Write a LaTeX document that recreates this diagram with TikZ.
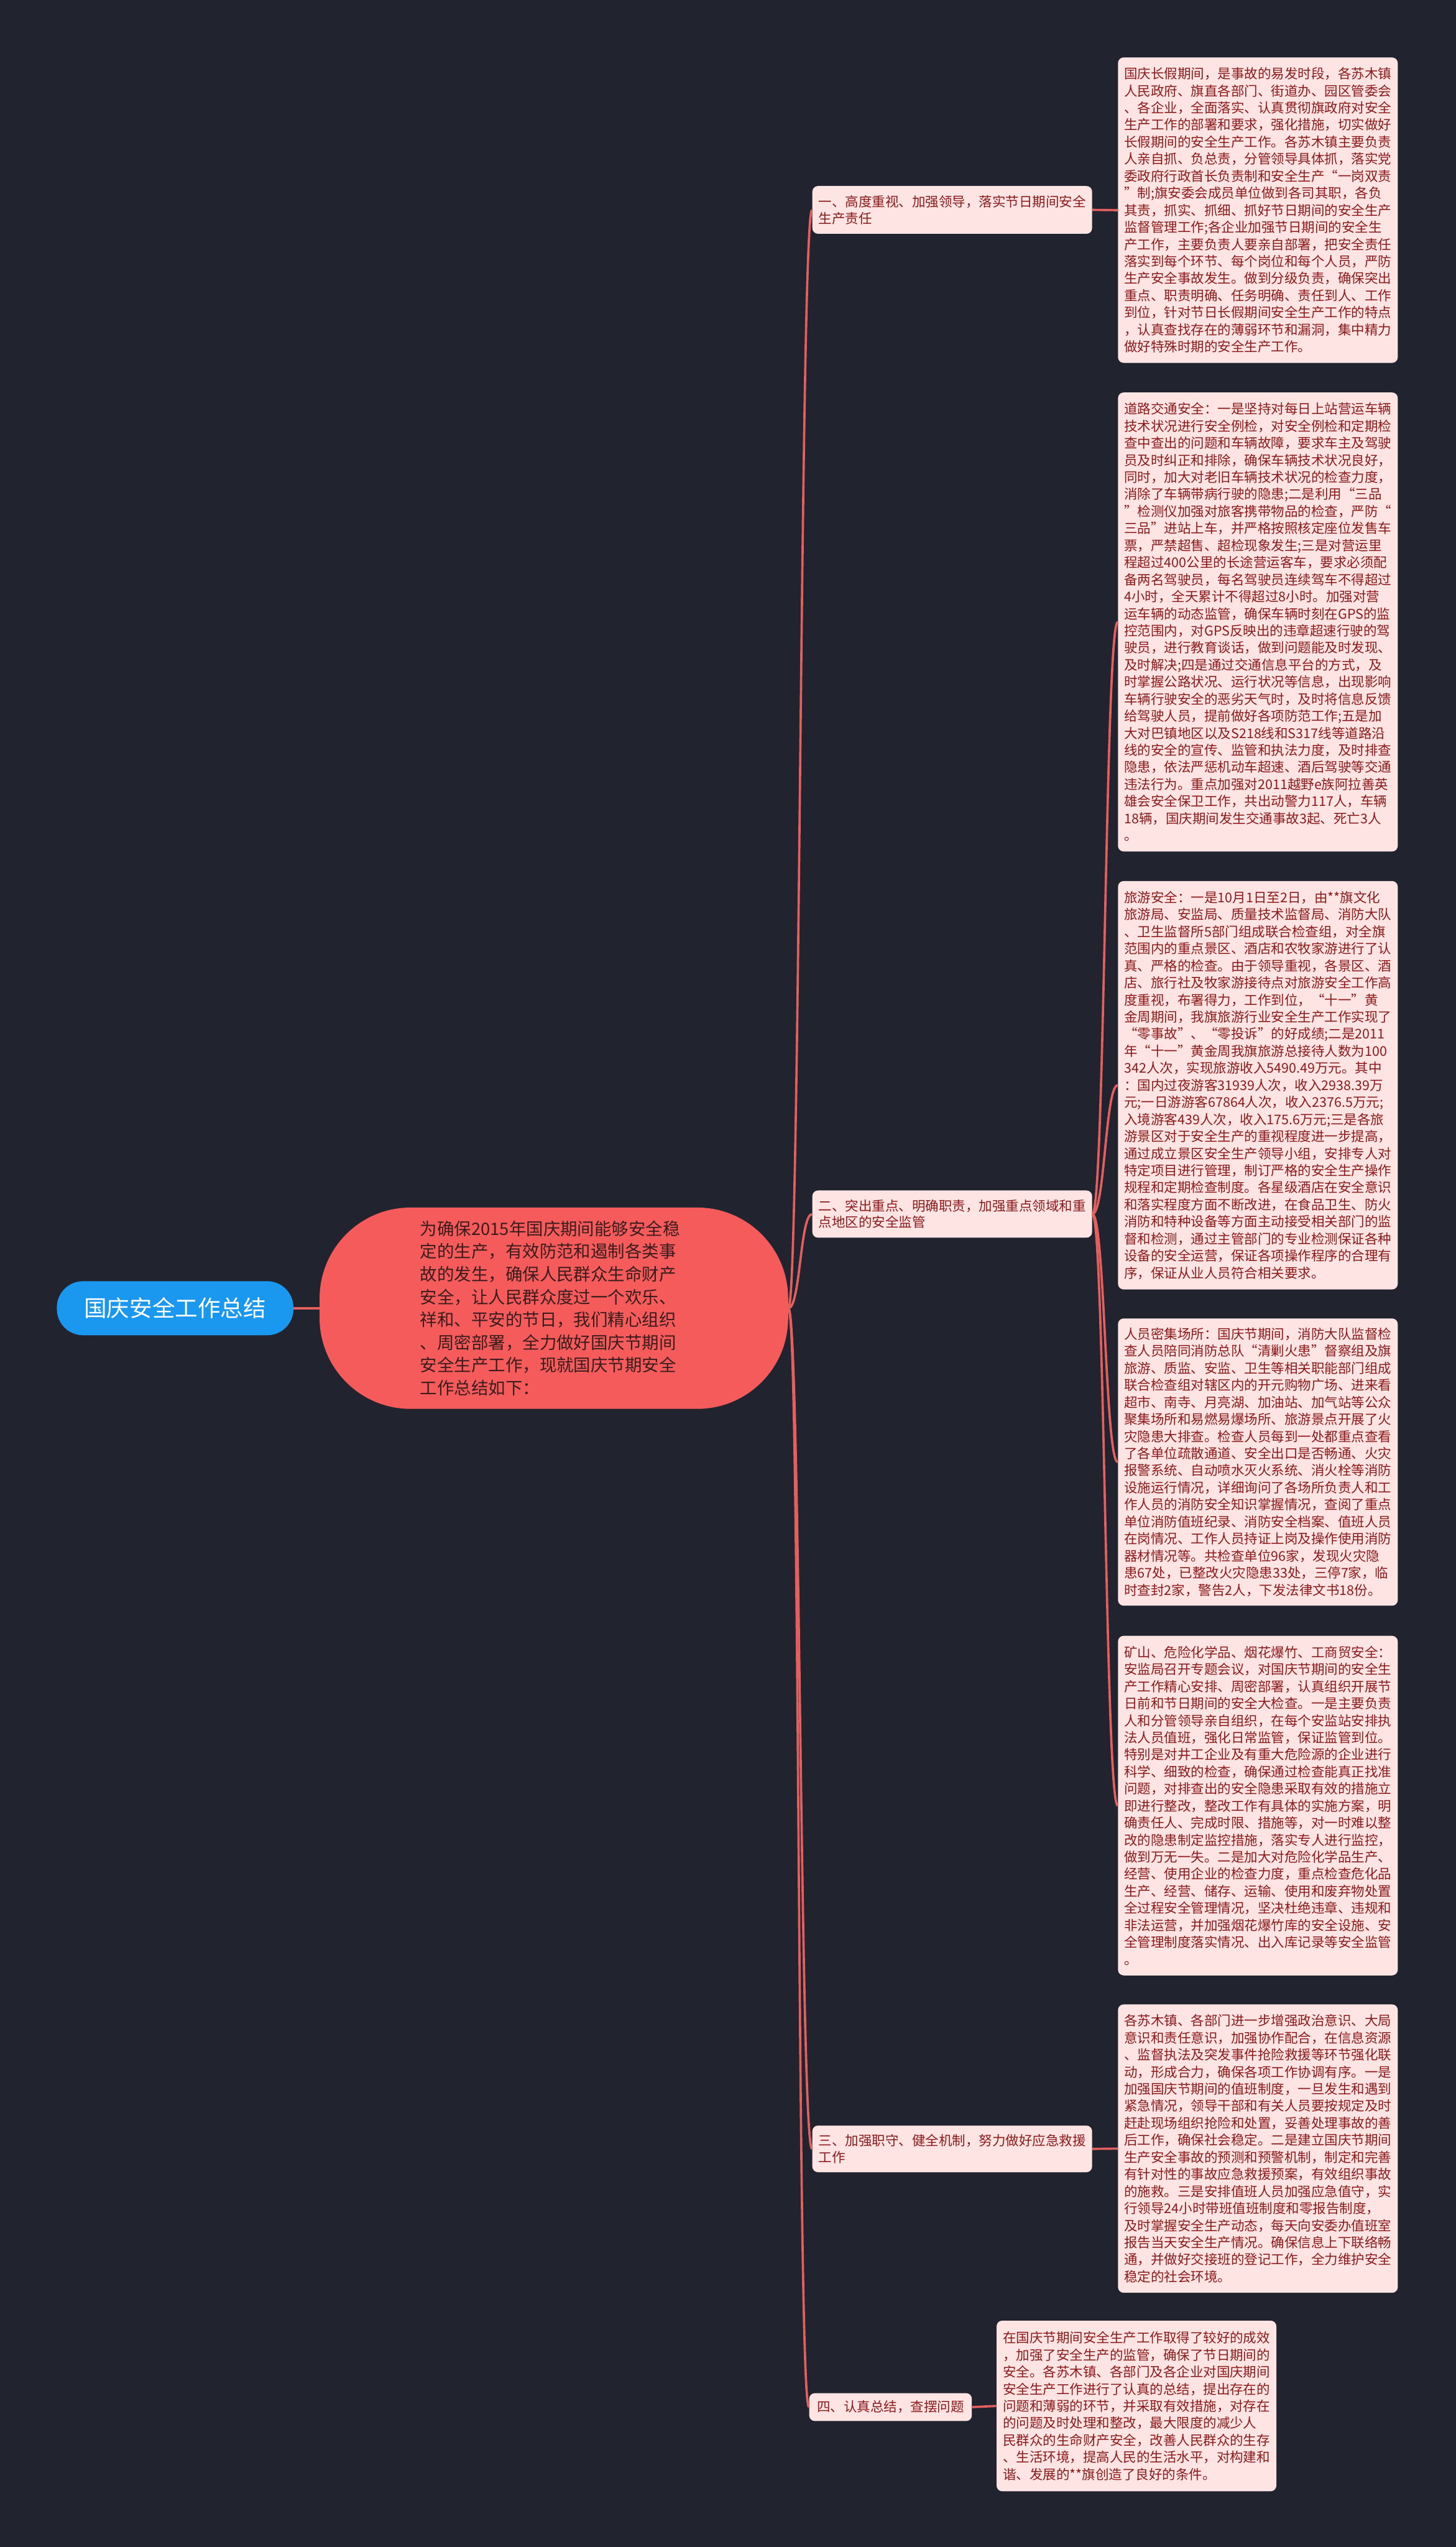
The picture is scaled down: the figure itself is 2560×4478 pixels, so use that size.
\documentclass[tikz,border=0pt]{standalone}
\usepackage{fontspec}
\setmainfont{Noto Sans CJK SC}
\definecolor{bgnavy}{HTML}{21232F}
\definecolor{rootblue}{HTML}{1A97EE}
\definecolor{mainred}{HTML}{F55B5B}
\definecolor{maintext}{HTML}{3A1C1C}
\definecolor{linkred}{HTML}{E3605F}
\definecolor{leafpink}{HTML}{FFE4E4}
\definecolor{leaftext}{HTML}{8B1A1A}

\begin{document}
\begin{tikzpicture}[x=0.5pt, y=-0.5pt,
    link/.style={draw=linkred, line width=2pt},
    rootnode/.style={fill=rootblue, rounded corners=23pt, text=white, font=\fontsize{20pt}{24pt}\selectfont, minimum width=208pt, minimum height=47.5pt},
    mainnode/.style={fill=mainred, rounded corners=80pt, text=maintext, font=\fontsize{15pt}{20pt}\selectfont, align=left, text width=235pt, minimum width=412pt, minimum height=177pt},
    branch/.style={fill=leafpink, rounded corners=5pt, text=leaftext, font=\fontsize{11.75pt}{14.5pt}\selectfont, align=left, text width=235pt, inner xsep=5.5pt},
    leaf/.style={fill=leafpink, rounded corners=5pt, text=leaftext, font=\fontsize{11.75pt}{15pt}\selectfont, align=left, text width=235pt, inner xsep=5.5pt}]

        % Draw background
        \fill[bgnavy] (0,0) rectangle (2560,4478);

        % Draw root and main topic
        \node[rootnode] (root) at (308,2300) {国庆安全工作总结};
        \node[mainnode] (main) at (974,2300) {为确保2015年国庆期间能够安全稳\\定的生产，有效防范和遏制各类事\\故的发生，确保人民群众生命财产\\安全，让人民群众度过一个欢乐、\\祥和、平安的节日，我们精心组织\\、周密部署，全力做好国庆节期间\\安全生产工作，现就国庆节期安全\\工作总结如下：};

        % Draw branches
        \node[branch, minimum height=42pt] (b1) at (1674.5,369) {一、高度重视、加强领导，落实节日期间安全\\生产责任};
        \node[branch, minimum height=41.5pt] (b2) at (1674.5,2134.5) {二、突出重点、明确职责，加强重点领域和重\\点地区的安全监管};
        \node[branch, minimum height=41pt] (b3) at (1674.5,3778) {三、加强职守、健全机制，努力做好应急救援\\工作};
        \node[branch, minimum height=24.5pt, text width=129pt, inner xsep=7pt] (b4) at (1566,4232) {四、认真总结，查摆问题};

        % Draw leaves
        \node[leaf, minimum height=268.5pt] (l1) at (2212,369.5) {国庆长假期间，是事故的易发时段，各苏木镇\\人民政府、旗直各部门、街道办、园区管委会\\、各企业，全面落实、认真贯彻旗政府对安全\\生产工作的部署和要求，强化措施，切实做好\\长假期间的安全生产工作。各苏木镇主要负责\\人亲自抓、负总责，分管领导具体抓，落实党\\委政府行政首长负责制和安全生产“一岗双责\\”制;旗安委会成员单位做到各司其职，各负\\其责，抓实、抓细、抓好节日期间的安全生产\\监督管理工作;各企业加强节日期间的安全生\\产工作，主要负责人要亲自部署，把安全责任\\落实到每个环节、每个岗位和每个人员，严防\\生产安全事故发生。做到分级负责，确保突出\\重点、职责明确、任务明确、责任到人、工作\\到位，针对节日长假期间安全生产工作的特点\\，认真查找存在的薄弱环节和漏洞，集中精力\\做好特殊时期的安全生产工作。};
        \node[leaf, minimum height=403.5pt] (l2) at (2212,1093.5) {道路交通安全：一是坚持对每日上站营运车辆\\技术状况进行安全例检，对安全例检和定期检\\查中查出的问题和车辆故障，要求车主及驾驶\\员及时纠正和排除，确保车辆技术状况良好，\\同时，加大对老旧车辆技术状况的检查力度，\\消除了车辆带病行驶的隐患;二是利用“三品\\”检测仪加强对旅客携带物品的检查，严防“\\三品”进站上车，并严格按照核定座位发售车\\票，严禁超售、超检现象发生;三是对营运里\\程超过400公里的长途营运客车，要求必须配\\备两名驾驶员，每名驾驶员连续驾车不得超过\\4小时，全天累计不得超过8小时。加强对营\\运车辆的动态监管，确保车辆时刻在GPS的监\\控范围内，对GPS反映出的违章超速行驶的驾\\驶员，进行教育谈话，做到问题能及时发现、\\及时解决;四是通过交通信息平台的方式，及\\时掌握公路状况、运行状况等信息，出现影响\\车辆行驶安全的恶劣天气时，及时将信息反馈\\给驾驶人员，提前做好各项防范工作;五是加\\大对巴镇地区以及S218线和S317线等道路沿\\线的安全的宣传、监管和执法力度，及时排查\\隐患，依法严惩机动车超速、酒后驾驶等交通\\违法行为。重点加强对2011越野e族阿拉善英\\雄会安全保卫工作，共出动警力117人，车辆\\18辆，国庆期间发生交通事故3起、死亡3人\\。};
        \node[leaf, minimum height=359pt] (l3) at (2212,1908) {旅游安全：一是10月1日至2日，由**旗文化\\旅游局、安监局、质量技术监督局、消防大队\\、卫生监督所5部门组成联合检查组，对全旗\\范围内的重点景区、酒店和农牧家游进行了认\\真、严格的检查。由于领导重视，各景区、酒\\店、旅行社及牧家游接待点对旅游安全工作高\\度重视，布署得力，工作到位，“十一”黄\\金周期间，我旗旅游行业安全生产工作实现了\\“零事故”、“零投诉”的好成绩;二是2011\\年“十一”黄金周我旗旅游总接待人数为100\\342人次，实现旅游收入5490.49万元。其中\\：国内过夜游客31939人次，收入2938.39万\\元;一日游游客67864人次，收入2376.5万元;\\入境游客439人次，收入175.6万元;三是各旅\\游景区对于安全生产的重视程度进一步提高，\\通过成立景区安全生产领导小组，安排专人对\\特定项目进行管理，制订严格的安全生产操作\\规程和定期检查制度。各星级酒店在安全意识\\和落实程度方面不断改进，在食品卫生、防火\\消防和特种设备等方面主动接受相关部门的监\\督和检测，通过主管部门的专业检测保证各种\\设备的安全运营，保证各项操作程序的合理有\\序，保证从业人员符合相关要求。};
        \node[leaf, minimum height=252.5pt] (l4) at (2212,2570.5) {人员密集场所：国庆节期间，消防大队监督检\\查人员陪同消防总队“清剿火患”督察组及旗\\旅游、质监、安监、卫生等相关职能部门组成\\联合检查组对辖区内的开元购物广场、进来看\\超市、南寺、月亮湖、加油站、加气站等公众\\聚集场所和易燃易爆场所、旅游景点开展了火\\灾隐患大排查。检查人员每到一处都重点查看\\了各单位疏散通道、安全出口是否畅通、火灾\\报警系统、自动喷水灭火系统、消火栓等消防\\设施运行情况，详细询问了各场所负责人和工\\作人员的消防安全知识掌握情况，查阅了重点\\单位消防值班纪录、消防安全档案、值班人员\\在岗情况、工作人员持证上岗及操作使用消防\\器材情况等。共检查单位96家，发现火灾隐\\患67处，已整改火灾隐患33处，三停7家，临\\时查封2家，警告2人，下发法律文书18份。};
        \node[leaf, minimum height=298.5pt] (l5) at (2212,3174.5) {矿山、危险化学品、烟花爆竹、工商贸安全：\\安监局召开专题会议，对国庆节期间的安全生\\产工作精心安排、周密部署，认真组织开展节\\日前和节日期间的安全大检查。一是主要负责\\人和分管领导亲自组织，在每个安监站安排执\\法人员值班，强化日常监管，保证监管到位。\\特别是对井工企业及有重大危险源的企业进行\\科学、细致的检查，确保通过检查能真正找准\\问题，对排查出的安全隐患采取有效的措施立\\即进行整改，整改工作有具体的实施方案，明\\确责任人、完成时限、措施等，对一时难以整\\改的隐患制定监控措施，落实专人进行监控，\\做到万无一失。二是加大对危险化学品生产、\\经营、使用企业的检查力度，重点检查危化品\\生产、经营、储存、运输、使用和废弃物处置\\全过程安全管理情况，坚决杜绝违章、违规和\\非法运营，并加强烟花爆竹库的安全设施、安\\全管理制度落实情况、出入库记录等安全监管\\。};
        \node[leaf, minimum height=253.5pt] (l6) at (2212,3777.5) {各苏木镇、各部门进一步增强政治意识、大局\\意识和责任意识，加强协作配合，在信息资源\\、监督执法及突发事件抢险救援等环节强化联\\动，形成合力，确保各项工作协调有序。一是\\加强国庆节期间的值班制度，一旦发生和遇到\\紧急情况，领导干部和有关人员要按规定及时\\赶赴现场组织抢险和处置，妥善处理事故的善\\后工作，确保社会稳定。二是建立国庆节期间\\生产安全事故的预测和预警机制，制定和完善\\有针对性的事故应急救援预案，有效组织事故\\的施救。三是安排值班人员加强应急值守，实\\行领导24小时带班值班制度和零报告制度，\\及时掌握安全生产动态，每天向安委办值班室\\报告当天安全生产情况。确保信息上下联络畅\\通，并做好交接班的登记工作，全力维护安全\\稳定的社会环境。};
        \node[leaf, minimum height=150pt] (l7) at (1998.5,4230) {在国庆节期间安全生产工作取得了较好的成效\\，加强了安全生产的监管，确保了节日期间的\\安全。各苏木镇、各部门及各企业对国庆期间\\安全生产工作进行了认真的总结，提出存在的\\问题和薄弱的环节，并采取有效措施，对存在\\的问题及时处理和整改，最大限度的减少人\\民群众的生命财产安全，改善人民群众的生存\\、生活环境，提高人民的生活水平，对构建和\\谐、发展的**旗创造了良好的条件。};

        % Draw links
        \draw[link] (root.east) -- (main.west);
        \draw[link] (main.east) .. controls +(21,0) and +(-21,0) .. (b1.west);
        \draw[link] (main.east) .. controls +(21,0) and +(-21,0) .. (b2.west);
        \draw[link] (main.east) .. controls +(21,0) and +(-21,0) .. (b3.west);
        \draw[link] (main.east) .. controls +(21,0) and +(-21,0) .. (b4.west);
        \draw[link] (b1.east) -- (l1.west);
        \draw[link] (b2.east) .. controls +(22,0) and +(-22,0) .. (l2.west);
        \draw[link] (b2.east) .. controls +(22,0) and +(-22,0) .. (l3.west);
        \draw[link] (b2.east) .. controls +(22,0) and +(-22,0) .. (l4.west);
        \draw[link] (b2.east) .. controls +(22,0) and +(-22,0) .. (l5.west);
        \draw[link] (b3.east) -- (l6.west);
        \draw[link] (b4.east) -- (l7.west);
    \end{tikzpicture}
\end{document}
